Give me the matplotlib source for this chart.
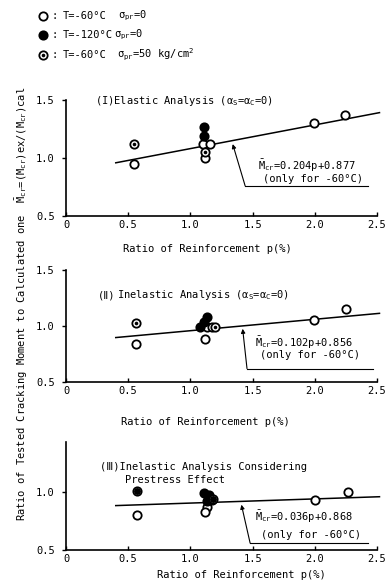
import matplotlib
matplotlib.use("Agg")
import matplotlib.pyplot as plt
import numpy as np

plt.rcParams['font.family'] = ['DejaVu Sans Mono', 'DejaVu Sans']
plt.rcParams['mathtext.fontset'] = 'custom'
plt.rcParams['mathtext.rm'] = 'DejaVu Sans Mono'
plt.rcParams['mathtext.it'] = 'DejaVu Sans Mono'
plt.rcParams['mathtext.bf'] = 'DejaVu Sans Mono:bold'

# ---------------- data ----------------
x_ticks = [0, 0.5, 1.0, 1.5, 2.0, 2.5]
x_tick_labels = ["0", "0.5", "1.0", "1.5", "2.0", "2.5"]

# Panel I : elastic analysis
p1_hollow_x = [0.55, 1.10, 1.16, 1.12, 1.99, 2.24]
p1_hollow_y = [0.95, 1.12, 1.12, 1.00, 1.30, 1.37]
p1_filled_x = [1.11, 1.11]
p1_filled_y = [1.27, 1.19]
p1_pre_x = [0.55, 1.12]
p1_pre_y = [1.12, 1.05]
p1_fit = (0.204, 0.877)

# Panel II : inelastic analysis
p2_hollow_x = [0.56, 1.13, 1.17, 1.12, 1.99, 2.25]
p2_hollow_y = [0.84, 0.99, 0.99, 0.88, 1.05, 1.15]
p2_filled_x = [1.13, 1.11, 1.08]
p2_filled_y = [1.08, 1.04, 0.99]
p2_pre_x = [0.56, 1.20]
p2_pre_y = [1.03, 0.99]
p2_fit = (0.102, 0.856)

# Panel III : inelastic analysis considering prestress
p3_hollow_x = [0.57, 1.13, 1.12, 2.00, 2.27]
p3_hollow_y = [0.80, 0.87, 0.83, 0.93, 1.00]
p3_filled_x = [1.11, 1.15, 1.17, 1.13]
p3_filled_y = [0.99, 0.97, 0.93, 0.92]
p3_pre_x = [0.57, 1.18]
p3_pre_y = [1.01, 0.94]
p3_fit = (0.036, 0.868)

fit_range = [0.40, 2.52]

W, H = 385, 584
fig = plt.figure(figsize=(W / 100, H / 100), dpi=100)

def fx(px):
    return px / W

def fy(py):
    return 1 - py / H

FS = 7.5

def make_ax(top, bottom, ymax, yticks):
    ax = fig.add_axes([fx(66), fy(bottom), fx(377) - fx(66), fy(top) - fy(bottom)])
    ax.set_xlim(0, 2.5)
    ax.set_ylim(0.5, ymax)
    for s in ['top', 'right']:
        ax.spines[s].set_visible(False)
    for s in ['left', 'bottom']:
        ax.spines[s].set_linewidth(1.2)
    ax.set_xticks(x_ticks)
    ax.set_xticklabels(x_tick_labels, fontsize=FS)
    ax.set_yticks(yticks)
    ax.set_yticklabels(["%.1f" % t for t in yticks], fontsize=FS)
    ax.tick_params(axis='x', direction='in', length=3, width=1, pad=3)
    ax.tick_params(axis='y', direction='out', length=3, width=1, pad=5)
    return ax

def draw_points(ax, hx, hy, fxs, fys, pxs, pys, fit, pre_dot=2.6):
    a, b = fit
    xs = np.array(fit_range)
    ax.plot(xs, a * xs + b, color='black', lw=1.1, zorder=2, clip_on=False)
    ms = 6
    ax.plot(hx, hy, 'o', ms=ms, mfc='white', mec='black', mew=1.3, zorder=3, clip_on=False)
    ax.plot(fxs, fys, 'o', ms=ms, mfc='black', mec='black', mew=1.3, zorder=4, clip_on=False)
    ax.plot(pxs, pys, 'o', ms=ms, mfc='white', mec='black', mew=1.3, zorder=5, clip_on=False)
    ax.plot(pxs, pys, 'o', ms=pre_dot, mfc='black', mec='black', mew=0, zorder=6, clip_on=False)

def annotate(ax, text1, t1, t2, corner, end, tip):
    ax.text(t1[0], t1[1], text1, fontsize=FS, ha='left', va='center')
    ax.text(t2[0], t2[1], "(only for -60°C)", fontsize=FS, ha='left', va='center')
    ax.plot([corner[0], end[0]], [corner[1], end[1]], color='black', lw=0.8)
    ax.annotate("", xy=tip, xytext=corner,
                arrowprops=dict(arrowstyle='-|>', lw=0.8, color='black', mutation_scale=6,
                                shrinkA=0, shrinkB=0))

# Panel I
ax1 = make_ax(100, 216, 1.5, [0.5, 1.0, 1.5])
draw_points(ax1, p1_hollow_x, p1_hollow_y, p1_filled_x, p1_filled_y, p1_pre_x, p1_pre_y, p1_fit)
annotate(ax1, r"$\bar{\mathrm{M}}_{\mathrm{cr}}$=0.204p+0.877", (1.54, 0.93), (1.58, 0.82),
         (1.44, 0.76), (2.43, 0.76), (1.34, 1.12))
fig.text(fx(95), fy(101), r"(I)Elastic Analysis (α$_{\mathrm{S}}$=α$_{\mathrm{C}}$=0)",
         fontsize=FS, ha='left', va='center')

# Panel II
ax2 = make_ax(270, 382, 1.5, [0.5, 1.0, 1.5])
draw_points(ax2, p2_hollow_x, p2_hollow_y, p2_filled_x, p2_filled_y, p2_pre_x, p2_pre_y, p2_fit)
annotate(ax2, r"$\bar{\mathrm{M}}_{\mathrm{cr}}$=0.102p+0.856", (1.52, 0.85), (1.56, 0.74),
         (1.455, 0.62), (2.47, 0.62), (1.42, 0.975))
fig.text(fx(98), fy(295), "(Ⅱ)", fontsize=FS, ha='left', va='center')
fig.text(fx(117), fy(295), r"Inelastic Analysis (α$_{\mathrm{S}}$=α$_{\mathrm{C}}$=0)",
         fontsize=FS, ha='left', va='center')

# Panel III
ax3 = make_ax(442, 550, 1.43, [0.5, 1.0])
draw_points(ax3, p3_hollow_x, p3_hollow_y, p3_filled_x, p3_filled_y, p3_pre_x, p3_pre_y, p3_fit,
            pre_dot=5.0)
annotate(ax3, r"$\bar{\mathrm{M}}_{\mathrm{cr}}$=0.036p+0.868", (1.52, 0.785), (1.57, 0.63),
         (1.48, 0.56), (2.43, 0.56), (1.41, 0.89))
fig.text(fx(100), fy(467), "(Ⅲ)Inelastic Analysis Considering", fontsize=FS, ha='left', va='center')
fig.text(fx(125), fy(480), "Prestress Effect", fontsize=FS, ha='left', va='center')

# x labels
xl = "Ratio of Reinforcement p(%)"
fig.text(fx(207), fy(249), xl, fontsize=FS, ha='center', va='center')
fig.text(fx(205), fy(422), xl, fontsize=FS, ha='center', va='center')
fig.text(fx(241), fy(575), xl, fontsize=FS, ha='center', va='center')

# y label
fig.text(fx(22), fy(304),
         r"Ratio of Tested Cracking Moment to Calculated one  $\bar{\mathrm{M}}_{\mathrm{cr}}$=(M$_{\mathrm{cr}}$)ex/(M$_{\mathrm{cr}}$)cal",
         fontsize=FS, rotation=90, ha='center', va='center')

# legend
leg_y = [16, 35, 55]
leg_sigma = ["σ$_{\\mathrm{pr}}$=0", "σ$_{\\mathrm{pr}}$=0", "σ$_{\\mathrm{pr}}$=50 kg/cm$^{2}$"]
leg_T = ["T=-60°C", "T=-120°C", "T=-60°C"]
leg_sig_x = [118, 114, 117]
for i, (yy, t, sg, sx) in enumerate(zip(leg_y, leg_T, leg_sigma, leg_sig_x)):
    mx, my = fx(43), fy(yy)
    if i == 0:
        fig.lines.append(plt.Line2D([mx], [my], marker='o', ms=6, mfc='white', mec='black', mew=1.3,
                                    transform=fig.transFigure))
    elif i == 1:
        fig.lines.append(plt.Line2D([mx], [my], marker='o', ms=6, mfc='black', mec='black', mew=1.3,
                                    transform=fig.transFigure))
    else:
        fig.lines.append(plt.Line2D([mx], [my], marker='o', ms=6, mfc='white', mec='black', mew=1.3,
                                    transform=fig.transFigure))
        fig.lines.append(plt.Line2D([mx], [my], marker='o', ms=2.6, mfc='black', mec='black', mew=0,
                                    transform=fig.transFigure))
    fig.text(fx(52), my, ":", fontsize=FS, ha='left', va='center')
    fig.text(fx(63), my, t, fontsize=FS, ha='left', va='center')
    fig.text(fx(sx), my, sg, fontsize=FS, ha='left', va='center')

fig.savefig("out.png", dpi=100)
